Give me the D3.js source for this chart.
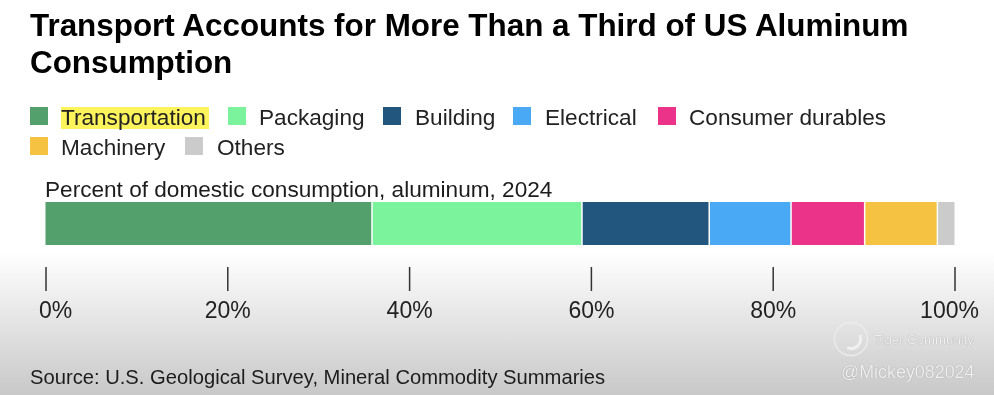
<!DOCTYPE html>
<html>
<head>
<meta charset="utf-8">
<script src="https://cdn.jsdelivr.net/npm/d3@7"></script>
<style>
  html, body { margin: 0; padding: 0; background: #fff; overflow: hidden; }
  text { font-family: "Liberation Sans", Arial, sans-serif; }
  svg { filter: blur(0.35px); }
</style>
</head>
<body>
<div id="chart"></div>
<script>
const categories = ["Transportation", "Packaging", "Building", "Electrical", "Consumer durables", "Machinery", "Others"];
const shares = [36, 23.1, 14, 9, 8.1, 8, 1.8];
const colors = ["#53a06c", "#7bf29c", "#22567e", "#4aa9f5", "#ec338a", "#f5c242", "#cbcbcb"];
const ticks = [0, 20, 40, 60, 80, 100];
const titleLines = ["Transport Accounts for More Than a Third of US Aluminum", "Consumption"];

const width = 994;
const height = 395;

const svg = d3.select("#chart")
  .append("svg")
  .attr("width", width)
  .attr("height", height)
  .style("display", "block");

// grey fade at the bottom of the video frame
const defs = svg.append("defs");
const fade = defs.append("linearGradient")
  .attr("id", "fade")
  .attr("x1", "0").attr("x2", "0").attr("y1", "0").attr("y2", "1");
fade.append("stop").attr("offset", "0%").attr("stop-color", "#ffffff");
fade.append("stop").attr("offset", "100%").attr("stop-color", "#c8c8c8");

svg.append("rect").attr("width", width).attr("height", height).attr("fill", "#fff");
svg.append("rect").attr("y", 252).attr("width", width).attr("height", 143).attr("fill", "url(#fade)");

svg.selectAll(".title")
  .data(titleLines)
  .join("text")
  .attr("class", "title")
  .attr("x", 30)
  .attr("y", (d, i) => 36 + i * 37)
  .attr("font-size", 31.4)
  .attr("font-weight", 700)
  .attr("fill", "#000")
  .text(d => d);

// legend, wraps after Consumer durables
const legendItems = [
  { row: 0, x: 30, tx: 61 },
  { row: 0, x: 228, tx: 259 },
  { row: 0, x: 383, tx: 415 },
  { row: 0, x: 513, tx: 545 },
  { row: 0, x: 658, tx: 689 },
  { row: 1, x: 30, tx: 61 },
  { row: 1, x: 185, tx: 217 }
];

svg.append("rect")
  .attr("x", 61).attr("y", 107)
  .attr("width", 148).attr("height", 22)
  .attr("fill", "#fdf45c");

const legend = svg.selectAll(".legend")
  .data(categories)
  .join("g")
  .attr("class", "legend");

legend.append("rect")
  .attr("x", (d, i) => legendItems[i].x)
  .attr("y", (d, i) => 107 + legendItems[i].row * 30)
  .attr("width", 18)
  .attr("height", 18)
  .attr("fill", (d, i) => colors[i]);

legend.append("text")
  .attr("x", (d, i) => legendItems[i].tx)
  .attr("y", (d, i) => 125 + legendItems[i].row * 30)
  .attr("font-size", 22.6)
  .attr("fill", "#222")
  .text(d => d);

svg.append("text")
  .attr("x", 45)
  .attr("y", 197)
  .attr("font-size", 22.6)
  .attr("fill", "#1c1c1c")
  .text("Percent of domestic consumption, aluminum, 2024");

const x = d3.scaleLinear().domain([0, 100]).range([45.5, 954.5]);

const stacked = d3.stack().keys(categories)([
  Object.fromEntries(categories.map((c, i) => [c, shares[i]]))
]);

svg.selectAll(".seg")
  .data(stacked)
  .join("rect")
  .attr("class", "seg")
  .attr("x", d => x(d[0][0]))
  .attr("y", 202)
  .attr("width", (d, i) => x(d[0][1]) - x(d[0][0]) - (i < categories.length - 1 ? 1.5 : 0))
  .attr("height", 43)
  .attr("fill", (d, i) => colors[i]);

const axis = svg.append("g")
  .attr("transform", "translate(0,267)")
  .call(d3.axisBottom(x).tickValues(ticks).tickSize(24).tickPadding(11).tickFormat(d => d + "%"));

axis.select(".domain").remove();
axis.selectAll("line").attr("stroke", "#333").attr("stroke-width", 1.5);
// end labels are pulled in towards the bar in the original
axis.selectAll("text")
  .attr("font-size", 23)
  .attr("font-family", "Liberation Sans, Arial, sans-serif")
  .attr("fill", "#222")
  .attr("dx", d => d === 0 ? 9.5 : d === 100 ? -5.5 : 0);

svg.append("text")
  .attr("x", 30)
  .attr("y", 384)
  .attr("font-size", 20.2)
  .attr("fill", "#1c1c1c")
  .text("Source: U.S. Geological Survey, Mineral Commodity Summaries");

// watermark
const mark = svg.append("g")
  .attr("fill", "#f0f0f0")
  .style("text-shadow", "0 0 1px #8a8a8a");
mark.append("circle")
  .attr("cx", 851).attr("cy", 339).attr("r", 16.5)
  .attr("fill", "none").attr("stroke", "#ececec").attr("stroke-width", 1.3);
mark.append("path")
  .attr("d", d3.arc()({ innerRadius: 8, outerRadius: 11, startAngle: 1.5, endAngle: 3.9 }))
  .attr("transform", "translate(851,339) rotate(-20)");
mark.append("text").attr("x", 874).attr("y", 344).attr("font-size", 13.2).text("Tiger Community");
mark.append("text").attr("x", 841).attr("y", 378).attr("font-size", 17.9).text("@Mickey082024");
</script>
</body>
</html>
